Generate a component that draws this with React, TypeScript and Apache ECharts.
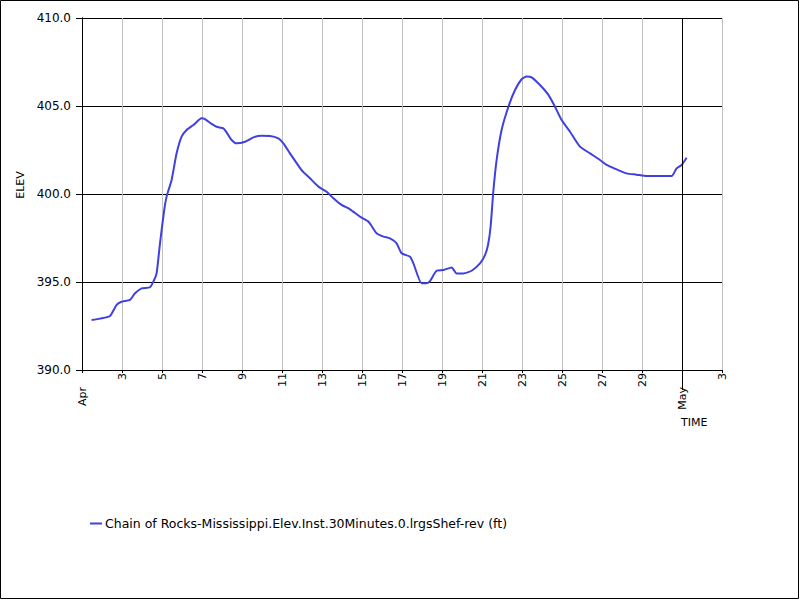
import React, { useRef, useEffect } from 'react';
import * as echarts from 'echarts';

// days since Apr 1 00:00, and elevation (ft)
const days = [
  0.48, 0.9, 1.4, 1.73, 1.98, 2.4, 2.65, 2.98, 3.4, 3.6, 3.73, 3.9, 4.1, 4.23, 4.48, 4.73, 4.98,
  5.23, 5.57, 5.98, 6.15, 6.48, 6.73, 7.07, 7.23, 7.48, 7.73, 8.15, 8.57, 8.98, 9.4, 9.82, 10.07,
  10.4, 10.98, 11.4, 11.82, 12.23, 12.57, 12.98, 13.4, 13.9, 14.32, 14.48, 14.73, 15.07, 15.4,
  15.73, 15.98, 16.4, 16.57, 16.98, 17.23, 17.4, 17.73, 18.07, 18.48, 18.73, 19.07, 19.48, 19.9,
  20.15, 20.3, 20.43, 20.57, 20.73, 20.98, 21.32, 21.65, 21.98, 22.23, 22.48, 22.9, 23.32, 23.65,
  23.98, 24.4, 24.9, 25.4, 25.9, 26.23, 26.73, 27.23, 27.73, 28.23, 28.9, 29.48, 29.73, 29.98,
  30.23,
];
const elev = [
  392.84, 392.92, 393.07, 393.7, 393.88, 393.98, 394.36, 394.64, 394.7, 395.1, 395.49, 397.2,
  399.0, 399.85, 400.8, 402.31, 403.26, 403.64, 403.92, 404.3, 404.26, 403.98, 403.82, 403.73,
  403.5, 403.07, 402.88, 402.97, 403.22, 403.31, 403.3, 403.16, 402.88, 402.31, 401.36, 400.89,
  400.42, 400.13, 399.76, 399.38, 399.13, 398.71, 398.43, 398.18, 397.77, 397.58, 397.48, 397.2,
  396.63, 396.44, 396.06, 394.93, 394.93, 395.05, 395.64, 395.68, 395.83, 395.49, 395.49, 395.64,
  396.06, 396.53, 397.1, 398.14, 400.2, 401.93, 403.64, 404.96, 405.91, 406.52, 406.67, 406.63,
  406.19, 405.63, 404.96, 404.2, 403.54, 402.69, 402.31, 401.93, 401.65, 401.4, 401.17, 401.1,
  401.02, 401.02, 401.02, 401.46, 401.65, 402.06,
];

// one label per 2-day tick, from Apr 1 to May 3
const tickLabels = [
  'Apr', '3', '5', '7', '9', '11', '13', '15', '17', '19', '21', '23', '25', '27', '29', 'May', '3',
];
const monthTicks = [0, 30];

const seriesName = 'Chain of Rocks-Mississippi.Elev.Inst.30Minutes.0.lrgsShef-rev (ft)';
const FONT = 'DejaVu Sans';

const App = () => {
  const chartRef = useRef(null);

  useEffect(() => {
    document.body.style.margin = '0';
    const myChart = echarts.init(chartRef.current, null, { renderer: 'svg' });

    const labelStyle = { color: '#000', fontFamily: FONT, fontSize: 11 };

    const option = {
      animation: false,
      backgroundColor: '#fff',
      grid: { left: 82, top: 18, width: 640, height: 352 },
      legend: {
        left: 85,
        top: 512,
        itemWidth: 12,
        itemHeight: 2,
        itemGap: 10,
        textStyle: { ...labelStyle, fontSize: 12.5, padding: [0, 0, 0, -2] },
        data: [{ name: seriesName, icon: 'rect' }],
      },
      graphic: [
        {
          type: 'rect',
          shape: { x: 0.5, y: 0.5, width: 798, height: 598 },
          style: { fill: 'none', stroke: '#000', lineWidth: 1 },
          silent: true,
        },
        {
          type: 'text',
          left: 681,
          top: 417,
          style: { text: 'TIME', fill: '#000', font: `11px "${FONT}"` },
        },
      ],
      xAxis: [
        {
          type: 'value',
          min: 0,
          max: 32,
          interval: 2,
          axisLine: { lineStyle: { color: '#000', width: 1 } },
          axisTick: { length: 3, lineStyle: { color: '#000' } },
          splitLine: { show: true, lineStyle: { color: '#c0c0c0', width: 1 } },
          axisLabel: {
            ...labelStyle,
            rotate: 90,
            margin: 3,
            formatter: (v: number) =>
              monthTicks.includes(v) ? '' : tickLabels[Math.round(v / 2)],
          },
        },
        {
          type: 'value',
          min: 0,
          max: 32,
          position: 'bottom',
          axisLine: { show: false },
          splitLine: { show: false },
          axisTick: {
            show: true,
            customValues: [30],
            length: 20,
            lineStyle: { color: '#000' },
          },
          axisLabel: {
            ...labelStyle,
            rotate: 90,
            margin: 17,
            customValues: monthTicks,
            formatter: (v: number) => tickLabels[Math.round(v / 2)],
          },
        },
      ],
      yAxis: [
        {
          type: 'value',
          min: 390,
          max: 410,
          interval: 5,
          name: 'ELEV',
          nameLocation: 'middle',
          nameGap: 56,
          nameTextStyle: { ...labelStyle, padding: [0, 0, 0, 18] },
          axisLine: { show: true, lineStyle: { color: '#000' } },
          axisTick: { show: true, length: 6, lineStyle: { color: '#000' } },
          splitLine: { show: true, lineStyle: { color: '#000', width: 1 } },
          axisLabel: {
            ...labelStyle,
            fontSize: 12,
            margin: 11,
            formatter: (v: number) => v.toFixed(1),
          },
        },
        {
          type: 'value',
          min: 390,
          max: 410,
          position: 'right',
          axisLine: { show: true, lineStyle: { color: '#000' } },
          axisTick: { show: false },
          axisLabel: { show: false },
          splitLine: { show: false },
        },
      ],
      series: [
        {
          name: seriesName,
          type: 'line',
          data: days.map((d, i) => [d, elev[i]]),
          showSymbol: false,
          symbol: 'none',
          smooth: 0.2,
          lineStyle: { color: '#4040e0', width: 2 },
          itemStyle: { color: '#4040e0' },
          markLine: {
            silent: true,
            symbol: ['none', 'none'],
            label: { show: false },
            lineStyle: { color: '#000', width: 1, type: 'solid' },
            data: [{ xAxis: monthTicks[1] }],
          },
        },
      ],
    };

    myChart.setOption(option);

    return () => {
      myChart.dispose();
    };
  }, []);

  return <div ref={chartRef} style={{ width: '800px', height: '600px' }} />;
};

export default App;
